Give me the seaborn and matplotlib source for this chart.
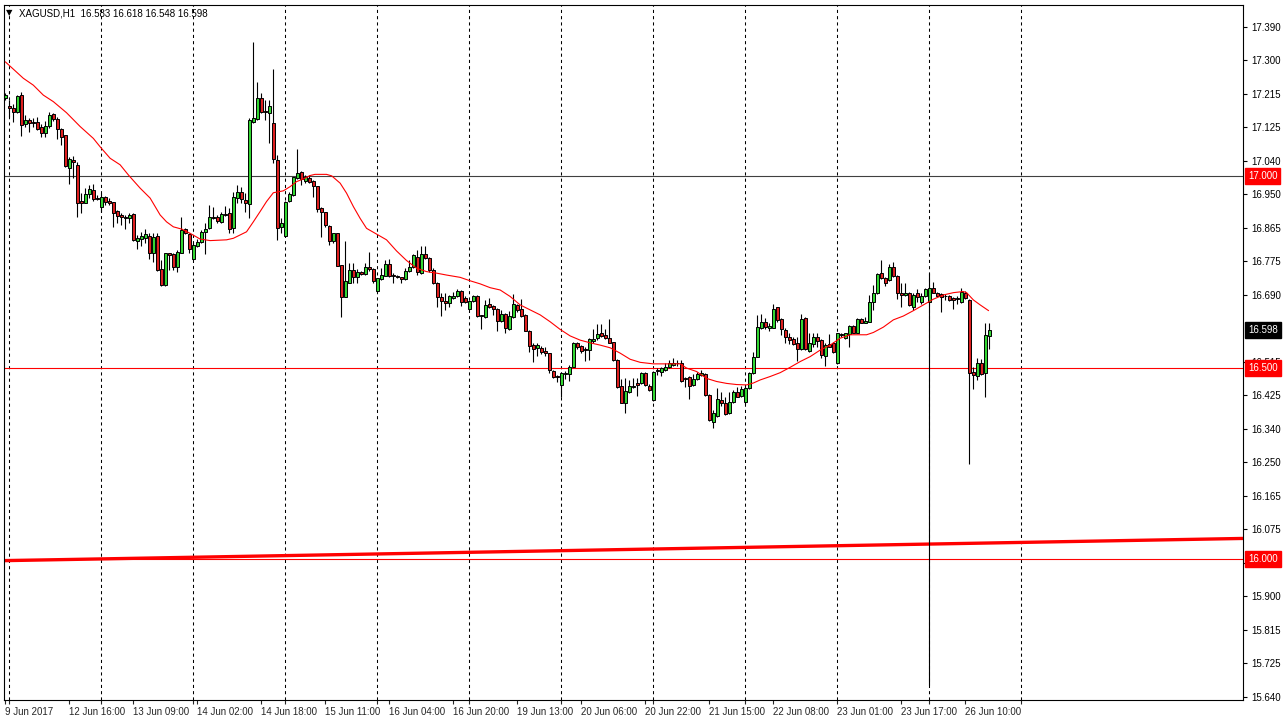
import matplotlib
matplotlib.use("Agg")
import matplotlib.pyplot as plt
import matplotlib.transforms as mtransforms
import numpy as np
import seaborn as sns

# ---- data ----
opens = [
    17.204, 17.184, 17.178, 17.168, 17.212, 17.137, 17.147, 17.142, 17.142, 17.129,
    17.113, 17.131, 17.163, 17.150, 17.124, 17.108, 17.022, 17.043, 17.030, 16.935,
    16.930, 16.954, 16.964, 16.943, 16.920, 16.946, 16.935, 16.933, 16.909, 16.899,
    16.894, 16.891, 16.902, 16.831, 16.836, 16.839, 16.844, 16.800, 16.844, 16.758,
    16.716, 16.800, 16.797, 16.763, 16.800, 16.862, 16.849, 16.784, 16.818, 16.829,
    16.855, 16.865, 16.894, 16.894, 16.881, 16.902, 16.904, 16.865, 16.943, 16.959,
    16.938, 16.928, 17.142, 17.150, 17.205, 17.171, 17.165, 17.139, 17.043, 16.868,
    16.844, 16.935, 16.951, 16.996, 17.011, 16.988, 16.996, 16.988, 16.975, 16.917,
    16.907, 16.870, 16.831, 16.852, 16.768, 16.685, 16.721, 16.755, 16.737, 16.750,
    16.745, 16.763, 16.758, 16.700, 16.732, 16.740, 16.771, 16.742, 16.740, 16.737,
    16.732, 16.753, 16.763, 16.789, 16.747, 16.797, 16.787, 16.755, 16.721, 16.685,
    16.674, 16.669, 16.682, 16.687, 16.700, 16.682, 16.653, 16.674, 16.687, 16.638,
    16.632, 16.666, 16.661, 16.653, 16.622, 16.640, 16.601, 16.632, 16.664, 16.653,
    16.638, 16.596, 16.559, 16.552, 16.552, 16.544, 16.538, 16.491, 16.478, 16.455,
    16.484, 16.484, 16.502, 16.565, 16.557, 16.549, 16.546, 16.570, 16.578, 16.591,
    16.586, 16.578, 16.567, 16.520, 16.452, 16.408, 16.437, 16.450, 16.460, 16.460,
    16.486, 16.452, 16.416, 16.494, 16.489, 16.494, 16.502, 16.507, 16.512, 16.512,
    16.473, 16.476, 16.455, 16.471, 16.481, 16.484, 16.429, 16.358, 16.374, 16.416,
    16.408, 16.382, 16.411, 16.437, 16.426, 16.411, 16.447, 16.486, 16.528, 16.604,
    16.619, 16.604, 16.604, 16.659, 16.627, 16.599, 16.580, 16.575, 16.565, 16.549,
    16.630, 16.544, 16.562, 16.580, 16.572, 16.531, 16.562, 16.565, 16.512, 16.586,
    16.578, 16.588, 16.609, 16.591, 16.627, 16.617, 16.619, 16.672, 16.695, 16.747,
    16.734, 16.729, 16.763, 16.740, 16.695, 16.690, 16.695, 16.659, 16.695, 16.672,
    16.687, 16.672, 16.708, 16.695, 16.693, 16.687, 16.687, 16.682, 16.682, 16.672,
    16.695, 16.677, 16.489, 16.478, 16.512, 16.486, 16.583,
]
highs = [
    17.218, 17.199, 17.189, 17.212, 17.220, 17.160, 17.152, 17.152, 17.155, 17.137,
    17.144, 17.168, 17.165, 17.155, 17.126, 17.108, 17.050, 17.053, 17.037, 16.956,
    16.969, 16.977, 16.980, 16.951, 16.956, 16.949, 16.943, 16.933, 16.912, 16.904,
    16.899, 16.904, 16.904, 16.847, 16.855, 16.862, 16.852, 16.852, 16.852, 16.781,
    16.800, 16.800, 16.800, 16.808, 16.894, 16.865, 16.852, 16.826, 16.836, 16.860,
    16.878, 16.925, 16.920, 16.899, 16.907, 16.922, 16.917, 16.959, 16.977, 16.972,
    16.956, 17.152, 17.351, 17.246, 17.218, 17.199, 17.199, 17.280, 17.056, 16.891,
    16.935, 16.959, 16.998, 17.071, 17.014, 17.003, 17.003, 16.990, 16.975, 16.920,
    16.907, 16.873, 16.852, 16.852, 16.768, 16.831, 16.774, 16.774, 16.758, 16.753,
    16.774, 16.802, 16.761, 16.734, 16.761, 16.781, 16.784, 16.747, 16.742, 16.737,
    16.761, 16.781, 16.797, 16.808, 16.818, 16.818, 16.789, 16.761, 16.724, 16.695,
    16.695, 16.690, 16.698, 16.706, 16.703, 16.687, 16.677, 16.690, 16.690, 16.638,
    16.677, 16.682, 16.664, 16.656, 16.651, 16.643, 16.648, 16.693, 16.666, 16.679,
    16.640, 16.599, 16.565, 16.565, 16.557, 16.554, 16.538, 16.494, 16.481, 16.489,
    16.491, 16.507, 16.567, 16.567, 16.559, 16.554, 16.578, 16.601, 16.614, 16.614,
    16.601, 16.627, 16.567, 16.523, 16.471, 16.473, 16.468, 16.473, 16.473, 16.489,
    16.489, 16.458, 16.491, 16.499, 16.502, 16.512, 16.520, 16.525, 16.520, 16.520,
    16.476, 16.478, 16.484, 16.489, 16.494, 16.486, 16.431, 16.390, 16.447, 16.437,
    16.424, 16.437, 16.442, 16.450, 16.452, 16.452, 16.489, 16.541, 16.638, 16.640,
    16.630, 16.617, 16.666, 16.659, 16.630, 16.604, 16.591, 16.580, 16.580, 16.640,
    16.632, 16.591, 16.591, 16.591, 16.575, 16.565, 16.588, 16.567, 16.591, 16.591,
    16.591, 16.612, 16.612, 16.630, 16.630, 16.633, 16.690, 16.716, 16.747, 16.781,
    16.737, 16.771, 16.776, 16.742, 16.721, 16.721, 16.698, 16.695, 16.706, 16.695,
    16.708, 16.747, 16.724, 16.698, 16.695, 16.693, 16.690, 16.685, 16.687, 16.708,
    16.700, 16.680, 16.502, 16.525, 16.523, 16.617, 16.618,
]
lows = [
    17.199, 17.155, 17.142, 17.165, 17.105, 17.129, 17.116, 17.129, 17.121, 17.103,
    17.103, 17.126, 17.145, 17.097, 17.082, 17.024, 16.980, 16.996, 16.894, 16.904,
    16.930, 16.943, 16.935, 16.938, 16.907, 16.925, 16.925, 16.868, 16.878, 16.873,
    16.862, 16.878, 16.831, 16.810, 16.818, 16.826, 16.784, 16.776, 16.753, 16.714,
    16.714, 16.755, 16.755, 16.750, 16.800, 16.849, 16.800, 16.781, 16.815, 16.826,
    16.797, 16.862, 16.888, 16.878, 16.878, 16.896, 16.852, 16.852, 16.930, 16.930,
    16.907, 16.891, 17.139, 17.147, 17.165, 17.147, 17.087, 17.035, 16.834, 16.852,
    16.844, 16.933, 16.949, 16.993, 16.977, 16.982, 16.982, 16.946, 16.907, 16.841,
    16.868, 16.821, 16.826, 16.766, 16.632, 16.685, 16.721, 16.721, 16.721, 16.742,
    16.742, 16.753, 16.721, 16.698, 16.729, 16.740, 16.737, 16.721, 16.734, 16.721,
    16.729, 16.750, 16.760, 16.742, 16.745, 16.784, 16.750, 16.719, 16.659, 16.635,
    16.651, 16.659, 16.680, 16.685, 16.661, 16.669, 16.653, 16.672, 16.632, 16.601,
    16.630, 16.656, 16.638, 16.596, 16.619, 16.591, 16.599, 16.630, 16.646, 16.632,
    16.596, 16.541, 16.515, 16.531, 16.536, 16.531, 16.486, 16.473, 16.463, 16.424,
    16.471, 16.465, 16.502, 16.549, 16.538, 16.518, 16.520, 16.565, 16.572, 16.580,
    16.575, 16.565, 16.518, 16.447, 16.408, 16.382, 16.434, 16.447, 16.426, 16.458,
    16.452, 16.439, 16.413, 16.481, 16.478, 16.491, 16.499, 16.504, 16.504, 16.463,
    16.450, 16.418, 16.452, 16.468, 16.478, 16.426, 16.361, 16.343, 16.371, 16.400,
    16.377, 16.379, 16.408, 16.424, 16.424, 16.405, 16.444, 16.484, 16.528, 16.601,
    16.601, 16.596, 16.604, 16.619, 16.586, 16.565, 16.562, 16.559, 16.518, 16.546,
    16.546, 16.541, 16.554, 16.554, 16.525, 16.505, 16.554, 16.538, 16.510, 16.580,
    16.575, 16.554, 16.591, 16.591, 16.617, 16.617, 16.619, 16.651, 16.693, 16.732,
    16.713, 16.727, 16.737, 16.680, 16.659, 16.687, 16.661, 16.651, 16.672, 16.666,
    16.685, 15.671, 16.695, 16.685, 16.646, 16.677, 16.674, 16.653, 16.666, 16.669,
    16.680, 16.249, 16.444, 16.468, 16.481, 16.424, 16.548,
]
closes = [
    17.212, 17.178, 17.168, 17.210, 17.134, 17.147, 17.139, 17.140, 17.124, 17.113,
    17.131, 17.160, 17.150, 17.124, 17.103, 17.027, 17.045, 17.037, 16.930, 16.930,
    16.954, 16.967, 16.941, 16.941, 16.946, 16.933, 16.930, 16.904, 16.896, 16.894,
    16.891, 16.899, 16.834, 16.839, 16.844, 16.849, 16.800, 16.841, 16.755, 16.716,
    16.800, 16.795, 16.763, 16.802, 16.860, 16.852, 16.810, 16.821, 16.829, 16.855,
    16.862, 16.894, 16.891, 16.883, 16.902, 16.899, 16.862, 16.946, 16.959, 16.941,
    16.930, 17.147, 17.152, 17.205, 17.168, 17.168, 17.184, 17.045, 16.865, 16.878,
    16.933, 16.954, 16.998, 17.009, 16.993, 16.998, 16.985, 16.975, 16.915, 16.907,
    16.873, 16.831, 16.852, 16.766, 16.685, 16.727, 16.755, 16.737, 16.750, 16.745,
    16.763, 16.758, 16.727, 16.734, 16.742, 16.771, 16.740, 16.740, 16.737, 16.732,
    16.753, 16.763, 16.795, 16.750, 16.797, 16.787, 16.755, 16.721, 16.685, 16.674,
    16.669, 16.687, 16.687, 16.700, 16.672, 16.672, 16.674, 16.687, 16.635, 16.635,
    16.664, 16.659, 16.653, 16.622, 16.640, 16.604, 16.635, 16.666, 16.651, 16.635,
    16.596, 16.557, 16.549, 16.559, 16.541, 16.538, 16.494, 16.476, 16.476, 16.486,
    16.486, 16.502, 16.565, 16.554, 16.544, 16.546, 16.575, 16.575, 16.588, 16.583,
    16.578, 16.565, 16.520, 16.450, 16.408, 16.439, 16.452, 16.452, 16.455, 16.486,
    16.455, 16.442, 16.489, 16.491, 16.499, 16.502, 16.512, 16.512, 16.511, 16.465,
    16.471, 16.452, 16.471, 16.484, 16.486, 16.429, 16.364, 16.382, 16.418, 16.408,
    16.379, 16.411, 16.437, 16.424, 16.444, 16.447, 16.486, 16.528, 16.606, 16.619,
    16.606, 16.609, 16.653, 16.625, 16.601, 16.580, 16.572, 16.562, 16.549, 16.627,
    16.549, 16.565, 16.580, 16.570, 16.533, 16.559, 16.554, 16.541, 16.591, 16.588,
    16.591, 16.609, 16.591, 16.627, 16.617, 16.622, 16.672, 16.695, 16.745, 16.734,
    16.721, 16.763, 16.740, 16.695, 16.690, 16.695, 16.664, 16.690, 16.685, 16.687,
    16.706, 16.708, 16.695, 16.687, 16.685, 16.687, 16.677, 16.677, 16.680, 16.698,
    16.682, 16.486, 16.481, 16.512, 16.484, 16.586, 16.598,
]

# moving average (red line), sampled along the bars
ma_bar = [0, 4.5, 7, 9.5, 12, 15.3, 18.7, 22, 23.7, 26.2, 28.7, 30.8, 33.7, 36.2,
          38.7, 40.3, 42, 44.1, 46.2, 48.7, 51.2, 55.3, 57, 60.3, 62, 63.7, 65.3,
          67, 69.5, 71.2, 72.8, 74.5, 76.2, 77.4, 80.3, 81.6, 83.7, 85.3, 87, 88.7,
          90.3, 92.8, 95.3, 97.8, 100.3, 102.8, 105.3, 107.8, 110.3, 113.7, 116.2,
          118.7, 121.2, 123.7, 126.2, 128.7, 131.2, 133.7, 136.2, 138.7, 141.2,
          143.7, 146.2, 148.7, 151.2, 153.7, 156.2, 158.7, 162, 165.3, 168.7, 170.3,
          172.8, 175.3, 177.8, 180.3, 182.8, 185.3, 187, 188.7, 191.2, 193.7, 196.2,
          198.7, 201.2, 203.7, 206.2, 208.7, 211.2, 215.3, 217, 219.5, 222, 224.5,
          227, 229.5, 232, 234.5, 237, 239.5, 240.3, 242, 243.7, 245.8]
ma_val = [17.299, 17.256, 17.238, 17.212, 17.195, 17.166, 17.130, 17.099, 17.077,
          17.047, 17.030, 17.003, 16.969, 16.943, 16.899, 16.881, 16.868, 16.862,
          16.851, 16.836, 16.832, 16.834, 16.838, 16.855, 16.881, 16.908, 16.934,
          16.957, 16.962, 16.973, 16.986, 16.993, 17.002, 17.005, 17.005, 17.001,
          16.982, 16.956, 16.921, 16.890, 16.864, 16.849, 16.834, 16.805, 16.780,
          16.760, 16.751, 16.747, 16.742, 16.736, 16.727, 16.719, 16.709, 16.703,
          16.686, 16.664, 16.651, 16.638, 16.620, 16.600, 16.583, 16.572, 16.565,
          16.559, 16.552, 16.538, 16.522, 16.514, 16.510, 16.510, 16.510, 16.499,
          16.490, 16.472, 16.464, 16.459, 16.456, 16.455, 16.460, 16.468, 16.477,
          16.487, 16.501, 16.516, 16.529, 16.546, 16.559, 16.577, 16.586, 16.586,
          16.592, 16.606, 16.625, 16.635, 16.649, 16.664, 16.679, 16.690, 16.696,
          16.699, 16.696, 16.677, 16.664, 16.649]

# horizontal levels and the drawn trend line
level_grey = 17.000
levels_red = [16.500, 16.000]
trend_bar = [-0.3, 309.4]
trend_price = [15.996, 16.054]

# axis labels
ytick_vals = np.linspace(17.390, 15.640, 21)
ytick_labels = ["17.390", "17.300", "17.215", "17.125", "17.040", "16.950", "16.865",
                "16.775", "16.690", "16.600", "16.515", "16.425", "16.340", "16.250",
                "16.165", "16.075", "15.990", "15.900", "15.815", "15.725", "15.640"]
xtick_labels = ["9 Jun 2017", "12 Jun 16:00", "13 Jun 09:00", "14 Jun 02:00",
                "14 Jun 18:00", "15 Jun 11:00", "16 Jun 04:00", "16 Jun 20:00",
                "19 Jun 13:00", "20 Jun 06:00", "20 Jun 22:00", "21 Jun 15:00",
                "22 Jun 08:00", "23 Jun 01:00", "23 Jun 17:00", "26 Jun 10:00"]
label_step = 16
day_step = 23

sns.set_style("white")
plt.rcParams["font.family"] = ["Liberation Sans", "DejaVu Sans"]

fig = plt.figure(figsize=(12.85, 7.22), dpi=100)
ax = fig.add_axes([4 / 1285, 22 / 722, 1239 / 1285, 695 / 722])

o = np.array(opens)
c = np.array(closes)
h = np.array(highs)
l = np.array(lows)
idx = np.arange(len(o))

# day separators
for b in np.arange(1, 255, day_step):
    ax.axvline(b, color="black", lw=0.75, ls=(0, (3, 3)), zorder=1)

ax.axhline(level_grey, color="#404040", lw=0.8, zorder=2)
for lv in levels_red:
    ax.axhline(lv, color="red", lw=0.8, zorder=2)
ax.plot(trend_bar, trend_price, color="red", lw=2.4, solid_capstyle="butt", zorder=2)

# candles
ax.vlines(idx, l, h, color="black", lw=0.8, zorder=3)
body_low = np.minimum(o, c)
body_h = np.maximum(np.abs(c - o), 0.0012)
colors = np.where(c > o, "#33d633", "#dd1f1f")
ax.bar(idx, body_h, bottom=body_low, width=0.72, color=colors,
       edgecolor="black", linewidth=0.7, zorder=4)

sns.lineplot(x=ma_bar, y=ma_val, ax=ax, color="red", lw=0.8, sort=False,
             estimator=None, zorder=5)

ax.set_xlim(-0.33, 309.4)
ax.set_ylim(15.632, 17.4474)

# y axis on the right (16.600 sits under the last-price box)
keep = [i for i, t in enumerate(ytick_labels) if t != "16.600"]
ax.set_yticks(ytick_vals[keep])
ax.set_yticklabels([ytick_labels[i] for i in keep])
ax.yaxis.tick_right()
ax.tick_params(axis="y", right=True, left=False, length=3, width=0.8, pad=3,
               labelsize=7, colors="black")

# x axis
xt = np.arange(len(xtick_labels)) * label_step
ax.set_xticks(xt)
ax.set_xticklabels(xtick_labels, ha="left")
ax.set_xticks(np.arange(1, 255, day_step), minor=True)
ax.tick_params(axis="x", which="both", bottom=True, length=3, width=0.8, pad=2,
               labelsize=7)

for s in ax.spines.values():
    s.set_color("black")
    s.set_linewidth(0.8)

# price boxes on the right scale
trans = mtransforms.offset_copy(
    mtransforms.blended_transform_factory(ax.transAxes, ax.transData),
    fig=fig, x=5, y=0, units="dots")
boxes = [(17.000, "17.000", "red"), (closes[-1], f"{closes[-1]:.3f}", "black"),
         (16.500, "16.500", "red"), (16.000, "16.000", "red")]
for val, txt, fc in boxes:
    ax.text(1.0, val, txt, transform=trans, ha="left", va="center", fontsize=7,
            color="white", zorder=10, clip_on=False,
            bbox=dict(boxstyle="square,pad=0.3", fc=fc, ec=fc))

title = (f"XAGUSD,H1  {opens[-1]:.3f} {highs[-1]:.3f} "
         f"{lows[-1]:.3f} {closes[-1]:.3f}")
fig.text(6 / 1285, 1 - 13 / 722, "\u25bc", fontsize=6, va="center", color="black",
         family="DejaVu Sans")
fig.text(19 / 1285, 1 - 13 / 722, title, fontsize=7, va="center", color="black")

fig.savefig("out.png", dpi=100, facecolor="white")
plt.close(fig)
